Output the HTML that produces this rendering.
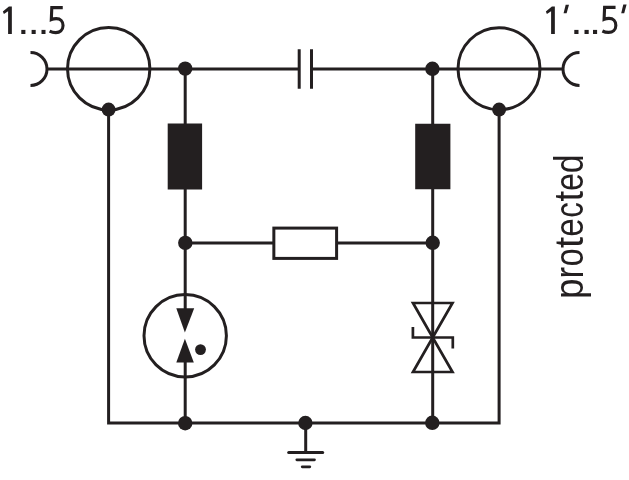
<!DOCTYPE html>
<html>
<head>
<meta charset="utf-8">
<style>
html,body{margin:0;padding:0;background:#fff;}
body{width:629px;height:480px;overflow:hidden;}
svg{display:block;}
text{font-family:"Liberation Sans",sans-serif;fill:#231f20;}
svg{will-change:transform;}
</style>
</head>
<body>
<svg width="629" height="480" viewBox="0 0 629 480">
<g fill="none" stroke="#231f20" stroke-width="3">
  <!-- connector arcs -->
  <path d="M30.5 52.5 A16.5 16.5 0 0 1 30.5 85.5"/>
  <path d="M579.5 52.5 A16 16 0 0 0 579.5 85.5"/>
  <!-- top line -->
  <path d="M46.5 69 H299.2 M311.5 69 H563.5"/>
  <!-- capacitor plates -->
  <path d="M299.2 49.2 V88.8 M311.5 49.2 V88.8"/>
  <!-- big circles -->
  <circle cx="108.7" cy="68.8" r="41.2"/>
  <circle cx="499" cy="68.8" r="41"/>
  <!-- outer verticals & bottom -->
  <path d="M108.6 109.6 V423 H499.1 V109.6" stroke-linejoin="miter"/>
  <!-- left inner vertical -->
  <path d="M185.2 69 V318 M185.2 352 V423"/>
  <!-- right inner vertical -->
  <path d="M432.7 69 V423"/>
  <!-- middle horizontal -->
  <path d="M185.2 243.1 H432.7"/>
  <!-- ground -->
  <path d="M305.7 423 V452.5"/>
  <!-- GDT circle -->
  <circle cx="185.2" cy="335.7" r="41.2"/>
  <!-- TVS -->
  <path d="M413 303 H452.5 L432.7 337.5 Z" stroke-linejoin="miter" stroke-width="2.7"/>
  <path d="M413 372 H452.5 L432.7 337.5 Z" stroke-linejoin="miter" stroke-width="2.7"/>
  <path d="M412.9 327 V337.5 H452.8 V348.4" stroke-linejoin="miter" stroke-width="2.7"/>
</g>
<g fill="#231f20" stroke="none">
  <!-- junction dots -->
  <circle cx="108.6" cy="109.6" r="7"/>
  <circle cx="499.1" cy="109.6" r="7"/>
  <circle cx="185.2" cy="68.6" r="7.2"/>
  <circle cx="432.4" cy="68.8" r="7.2"/>
  <circle cx="185.3" cy="242.9" r="7.2"/>
  <circle cx="432.7" cy="242.8" r="7.2"/>
  <circle cx="185.2" cy="423.2" r="7.2"/>
  <circle cx="305.4" cy="423" r="7.2"/>
  <circle cx="432.3" cy="422.8" r="7.2"/>
  <!-- inductors -->
  <rect x="167.7" y="123.5" width="34.4" height="66"/>
  <rect x="415.2" y="123.75" width="35.2" height="65.5"/>
  <!-- resistor fill white -->
  <rect x="273.85" y="228.1" width="62.75" height="30.3" fill="#fff" stroke="#231f20" stroke-width="3"/>
  <!-- GDT internals -->
    <path d="M176.3 308.3 H194.2 L184.9 332.5 Z"/>
  <path d="M176.3 362.5 H193.8 L184.9 338.7 Z"/>
  <circle cx="200.5" cy="349.6" r="5.4"/>
  <!-- ground bars -->
  <path d="M288.7 452.5 H322.7" stroke="#231f20" stroke-width="3" stroke-linecap="round"/>
  <path d="M296.8 459.8 H314.5" stroke="#231f20" stroke-width="2.7" stroke-linecap="round"/>
  <path d="M302.2 466.8 H309.8" stroke="#231f20" stroke-width="2.7" stroke-linecap="round"/>
</g>
<!-- labels -->
<defs>
  <path id="g1" d="M11.85 6.4 V33.9 H8.1 V11.3 L3.9 13.9 L2.85 11.6 L8.9 6.4 Z"/>
  <path id="g5" d="M62.75 7.6 H51.8 L51.3 19.6 C52.9 18.9 54.5 18.6 56.2 18.6 C60.5 18.6 63.05 21.5 63.05 25.6 C63.05 30 59.8 32.6 55.8 32.6 C53.3 32.6 51.2 32 49.6 31.2" fill="none" stroke="#231f20" stroke-width="3.1"/>
</defs>
<g fill="#231f20">
  <use href="#g1"/>
  <rect x="21.3" y="29.9" width="4.1" height="4.1"/>
  <rect x="31.6" y="29.9" width="4.1" height="4.1"/>
  <rect x="41.5" y="29.9" width="4.0" height="4.1"/>
  <use href="#g5"/>
  <use href="#g1" transform="translate(543,0)"/>
  <path d="M565.7 4.7 L569 4.7 L566.6 13.3 L563.6 13.3 Z"/>
  <rect x="574.3" y="29.9" width="4.2" height="4.1"/>
  <rect x="584.5" y="29.9" width="4.2" height="4.1"/>
  <rect x="593.0" y="29.9" width="4.1" height="4.1"/>
  <use href="#g5" transform="translate(552.8,-0.2)"/>
  <path d="M623.3 4.6 L626.6 4.6 L624.2 13.2 L621.2 13.2 Z"/>
</g>
<text transform="translate(582.5,298.98) rotate(-90) scale(0.923,1)" font-size="40">p</text>
<text transform="translate(582.5,278.38) rotate(-90) scale(0.860,1)" font-size="40">r</text>
<text transform="translate(582.5,266.57) rotate(-90) scale(0.818,1)" font-size="40">o</text>
<text transform="translate(582.5,248.06) rotate(-90) scale(1.000,1)" font-size="40">t</text>
<text transform="translate(582.5,236.80) rotate(-90) scale(0.826,1)" font-size="40">e</text>
<text transform="translate(582.5,217.75) rotate(-90) scale(0.780,1)" font-size="40">c</text>
<text transform="translate(582.5,201.58) rotate(-90) scale(0.959,1)" font-size="40">t</text>
<text transform="translate(582.5,190.85) rotate(-90) scale(0.794,1)" font-size="40">e</text>
<text transform="translate(582.5,173.22) rotate(-90) scale(0.845,1)" font-size="40">d</text>
</svg>
</body>
</html>
